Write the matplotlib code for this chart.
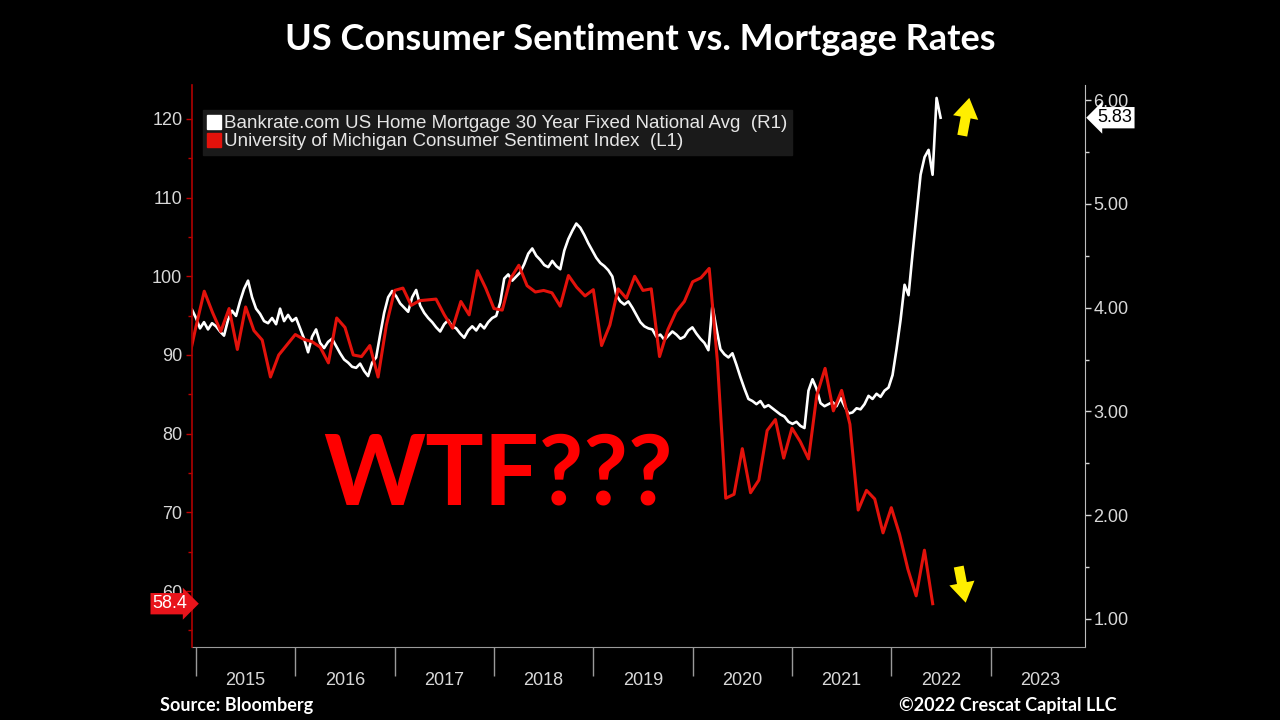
import numpy as np
import matplotlib
matplotlib.use("Agg")
import matplotlib.pyplot as plt
from matplotlib import font_manager
from matplotlib.lines import Line2D
from matplotlib.transforms import blended_transform_factory

# ---------------- data ----------------
# University of Michigan Consumer Sentiment (monthly, Nov 2014 .. May 2022)
sentiment_start = 2014 + 11 / 12  # month-end of Nov 2014
sentiment = [
    88.8, 93.6,
    98.1, 95.4, 93.0, 95.9, 90.7, 96.1, 93.1, 91.9, 87.2, 90.0, 91.3, 92.6,
    92.0, 91.7, 91.0, 89.0, 94.7, 93.5, 90.0, 89.8, 91.2, 87.2, 93.8, 98.2,
    98.5, 96.3, 96.9, 97.0, 97.1, 95.1, 93.4, 96.8, 95.1, 100.7, 98.5, 95.9,
    95.7, 99.7, 101.4, 98.8, 98.0, 98.2, 97.9, 96.2, 100.1, 98.6, 97.5, 98.3,
    91.2, 93.8, 98.4, 97.2, 100.0, 98.2, 98.4, 89.8, 93.2, 95.5, 96.8, 99.3,
    99.8, 101.0, 89.1, 71.8, 72.3, 78.1, 72.5, 74.1, 80.4, 81.8, 76.9, 80.7,
    79.0, 76.8, 84.9, 88.3, 82.9, 85.5, 81.2, 70.3, 72.8, 71.7, 67.4, 70.6,
    67.2, 62.8, 59.4, 65.2, 58.4,
]

# Bankrate.com 30Y fixed mortgage rate (~2 obs/month)
mortgage_start = 2014.96
mortgage_step = 0.0403
mortgage = [
    3.98, 3.90, 3.80, 3.86, 3.79, 3.85, 3.82, 3.77, 3.73, 3.88, 3.97, 3.92,
    4.06, 4.18, 4.26, 4.10, 3.99, 3.94, 3.87, 3.85, 3.90, 3.84, 3.99, 3.87,
    3.93, 3.87, 3.90, 3.80, 3.70, 3.57, 3.72, 3.79, 3.66, 3.61, 3.67, 3.70,
    3.63, 3.56, 3.50, 3.47, 3.43, 3.42, 3.46, 3.39, 3.34, 3.47, 3.52, 3.74,
    3.95, 4.10, 4.16, 4.11, 4.04, 4.00, 3.96, 4.10, 4.17, 4.02, 3.95, 3.90,
    3.86, 3.81, 3.77, 3.84, 3.88, 3.82, 3.80, 3.75, 3.71, 3.78, 3.82, 3.78,
    3.84, 3.80, 3.86, 3.90, 3.92, 4.05, 4.28, 4.32, 4.26, 4.30, 4.34, 4.42,
    4.52, 4.57, 4.50, 4.46, 4.41, 4.39, 4.45, 4.40, 4.37, 4.55, 4.66, 4.74,
    4.81, 4.77, 4.70, 4.62, 4.55, 4.48, 4.43, 4.40, 4.36, 4.30, 4.12, 4.06,
    4.03, 4.06, 4.00, 3.93, 3.86, 3.82, 3.80, 3.79, 3.72, 3.74, 3.69, 3.73,
    3.77, 3.74, 3.70, 3.72, 3.78, 3.81, 3.75, 3.70, 3.66, 3.59, 4.02, 3.80,
    3.60, 3.55, 3.52, 3.56, 3.45, 3.33, 3.22, 3.12, 3.10, 3.07, 3.10, 3.04,
    3.06, 3.03, 3.00, 2.97, 2.95, 2.90, 2.88, 2.90, 2.86, 2.84, 3.20, 3.31,
    3.22, 3.08, 3.05, 3.07, 3.09, 3.05, 3.13, 3.05, 2.98, 2.99, 3.03, 3.02,
    3.07, 3.15, 3.12, 3.17, 3.14, 3.20, 3.23, 3.35, 3.60, 3.88, 4.22, 4.12,
    4.52, 4.90, 5.28, 5.45, 5.52, 5.28, 6.02, 5.83,
]

years = [2015, 2016, 2017, 2018, 2019, 2020, 2021, 2022, 2023]
left_ticks = [60, 70, 80, 90, 100, 110, 120]
right_ticks = [1.0, 2.0, 3.0, 4.0, 5.0, 6.0]
last_sentiment_label = "58.4"
last_rate_label = "5.83"

title = "US Consumer Sentiment vs. Mortgage Rates"
legend_labels = ["Bankrate.com US Home Mortgage 30 Year Fixed National Avg  (R1)",
                 "University of Michigan Consumer Sentiment Index  (L1)"]

# ---------------- fonts ----------------
avail = {f.name for f in font_manager.fontManager.ttflist}
narrow = "Liberation Sans Narrow" if "Liberation Sans Narrow" in avail else "Liberation Sans"
bold_font = "Lato" if "Lato" in avail else "DejaVu Sans"

# ---------------- figure ----------------
BG = "black"
RED = "#e3120b"
GREY = "#d8d8d8"
fig = plt.figure(figsize=(12.8, 7.2), dpi=100, facecolor=BG)
L, R, B, T = 192, 1085, 647, 85
ax = fig.add_axes([L / 1280, 1 - B / 720, (R - L) / 1280, (B - T) / 720])
ax.set_facecolor(BG)
ax2 = ax.twinx()

m_x = mortgage_start + mortgage_step * np.arange(len(mortgage))
s_x = sentiment_start + np.arange(len(sentiment)) / 12

ax.plot(m_x, mortgage, color="white", lw=1.9)
ax2.plot(s_x, sentiment, color=RED, lw=2.2)

ax.set_xlim(2014.96, 2023.95)
ax.set_ylim(0.73, 6.145)
ax2.set_ylim(52.9, 124.3)

# right axis (mortgage) on ax
ax.yaxis.tick_right()
ax.set_yticks(right_ticks)
ax.set_yticklabels([f"{v:.2f}" for v in right_ticks])
ax.set_yticks(np.arange(1.5, 6.1, 1.0), minor=True)
ax.tick_params(axis="y", which="both", colors=GREY, labelcolor=GREY,
               direction="out", length=4, width=1, labelsize=13, pad=2)
ax.tick_params(axis="y", which="minor", length=3)

# left axis (sentiment) on ax2
ax2.yaxis.tick_left()
ax2.set_yticks(left_ticks)
ax2.set_yticks(np.arange(55, 125, 10), minor=True)
ax2.tick_params(axis="y", which="both", colors="#c00000", labelcolor=GREY,
                direction="out", length=4, width=1, labelsize=13, pad=3)
ax2.tick_params(axis="y", which="minor", length=3)

# x axis: year separators + centered labels
ax.set_xticks(years)
ax.set_xticklabels([])
ax.set_xticks([y + 0.5 for y in years], minor=True)
ax.set_xticklabels([str(y) for y in years], minor=True)
ax.tick_params(axis="x", which="major", length=21, width=1, colors="#9a9a9a", direction="out")
ax.tick_params(axis="x", which="minor", length=0, labelcolor=GREY, labelsize=13, pad=18)
ax2.tick_params(axis="x", which="both", length=0)

for a in (ax, ax2):
    for lab in a.get_xticklabels(which="both") + a.get_yticklabels(which="both"):
        lab.set_fontfamily([narrow, "DejaVu Sans"])

for sp in ("top", "left"):
    ax.spines[sp].set_visible(False)
ax.spines["right"].set_color("#bdbdbd")
ax.spines["bottom"].set_color("#9a9a9a")
for sp in ("top", "right", "bottom"):
    ax2.spines[sp].set_visible(False)
ax2.spines["left"].set_color("#b00000")
ax2.spines["left"].set_linewidth(1.2)

# legend
handles = [Line2D([], [], ls="none", marker="s", ms=10, mfc="white", mec="white"),
           Line2D([], [], ls="none", marker="s", ms=10, mfc=RED, mec=RED)]
leg = ax2.legend(handles, legend_labels, loc="upper left", bbox_to_anchor=(0.012, 0.955),
                 frameon=True, fancybox=False, facecolor="#1a1a1a", edgecolor="#1a1a1a",
                 framealpha=1.0, handlelength=0.7, handletextpad=0.2, borderpad=0.25,
                 labelspacing=0.05, borderaxespad=0.0,
                 prop={"family": [narrow, "DejaVu Sans"], "size": 13.5})
for t in leg.get_texts():
    t.set_color("#e6e6e6")

# last-value tags
tr_left = blended_transform_factory(ax.transAxes, ax2.transData)
ax2.text(-0.005, sentiment[-1], last_sentiment_label, transform=tr_left, ha="right", va="center",
         color="white", fontsize=13, family=[narrow, "DejaVu Sans"], zorder=10,
         bbox=dict(boxstyle="rarrow,pad=0.12", fc="#e8141b", ec="none"))
tr_right = blended_transform_factory(ax.transAxes, ax.transData)
ax.text(1.014, mortgage[-1], last_rate_label, transform=tr_right, ha="left", va="center",
        color="black", fontsize=13, family=[narrow, "DejaVu Sans"],
        bbox=dict(boxstyle="larrow,pad=0.12", fc="white", ec="none"))

# yellow arrows
arrow_style = "simple,head_width=1.15,head_length=0.9,tail_width=0.45"
ax.annotate("", xy=(0.871, 0.982), xytext=(0.862, 0.905), xycoords="axes fraction",
            arrowprops=dict(arrowstyle=arrow_style, color="#ffee00", mutation_scale=16, lw=0))
ax.annotate("", xy=(0.867, 0.074), xytext=(0.858, 0.148), xycoords="axes fraction",
            arrowprops=dict(arrowstyle=arrow_style, color="#ffee00", mutation_scale=16, lw=0))

# big annotation
fig.text(498 / 1280, 1 - 476 / 720, "WTF???", color="#ff0000", fontsize=70,
         fontweight="bold", family=bold_font, ha="center", va="center")

# title and footer
fig.text(0.5, 1 - 40 / 720, title, color="white", fontsize=26, fontweight="bold",
         family=bold_font, ha="center", va="center")
fig.text(160 / 1280, 1 - 705 / 720, "Source: Bloomberg", color="white", fontsize=13,
         fontweight="bold", family=bold_font, ha="left", va="center")
fig.text(1117 / 1280, 1 - 705 / 720, "\u00a92022 Crescat Capital LLC", color="white", fontsize=13,
         fontweight="bold", family=bold_font, ha="right", va="center")

fig.savefig("out.png", dpi=100, facecolor=BG)
